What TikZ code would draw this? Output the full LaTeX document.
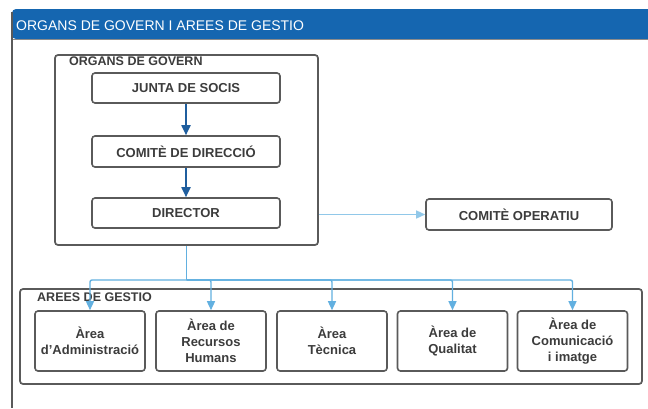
\documentclass[tikz,border=0pt]{standalone}
\usepackage{fontspec}
\setmainfont{Liberation Sans}
\usetikzlibrary{arrows.meta}
\definecolor{hdrblue}{HTML}{1566B0}
\definecolor{boxgray}{HTML}{5A5A5A}
\definecolor{txtgray}{HTML}{3C3C3C}
\definecolor{darkarrow}{HTML}{1F5E9E}
\definecolor{lightarrow}{HTML}{62B0E0}
\tikzset{
  group/.style={draw=boxgray, line width=1.7pt, rounded corners=3pt, inner sep=0pt},
  unit/.style={draw=boxgray, line width=1.6pt, rounded corners=3pt, inner sep=0pt,
    text=txtgray, font=\fontsize{13}{16}\selectfont\bfseries, align=center},
  area/.style={unit, minimum width=110pt, minimum height=60pt},
  grouplabel/.style={anchor=base west, inner sep=0pt, text=txtgray, font=\fontsize{12.5}{15}\selectfont\bfseries},
  darr/.style={draw=darkarrow, line width=1.8pt, -{Triangle[length=10pt,width=9pt]}},
  larr/.style={draw=lightarrow, line width=1.4pt, -{Triangle[length=9pt,width=8pt]}},
  lline/.style={draw=lightarrow, line width=1.4pt}
}
\begin{document}
\begin{tikzpicture}[x=1pt,y=-1pt]
\useasboundingbox (0,0) rectangle (648,408);
\fill[white] (0,0) rectangle (648,408);
% header bar and frame
\fill[hdrblue, rounded corners=4pt] (12,39) -- (12,9) -- (660,9) -- (660,39) -- cycle;
\draw[boxgray!70, line width=1pt] (12,39) -- (648,39);
\draw[boxgray, line width=1.3pt] (12,12) -- (12,408);
\node[anchor=base west, inner sep=0pt, text=white, font=\fontsize{14}{16}\selectfont] (title) at (16,30) {ORGANS DE GOVERN I AREES DE GESTIO};
% organs de govern
\node[group, minimum width=263pt, minimum height=190pt] (og) at (186.5,150) {};
\node[grouplabel] (oglabel) at (69,65) {ORGANS DE GOVERN};
\node[unit, minimum width=188pt, minimum height=30pt] (junta) at (186,88) {JUNTA DE SOCIS};
\node[unit, minimum width=188pt, minimum height=31pt] (cdir) at (186,151.5) {COMITÈ DE DIRECCIÓ};
\node[unit, minimum width=188pt, minimum height=30pt] (dir) at (186,213) {DIRECTOR};
\node[unit, minimum width=186pt, minimum height=31pt] (cop) at (519,214.5) {COMITÈ OPERATIU};
\draw[darr] (junta) -- (cdir);
\draw[darr] (cdir) -- (dir);
\draw[larr, draw=lightarrow!70] (og.east |- cop.west) -- (cop.west);
% arees de gestio
\node[group, minimum width=622pt, minimum height=95pt] (ag) at (331,336.5) {};
\node[grouplabel] (aglabel) at (37,301) {AREES DE GESTIO};
\node[area] (a1) at (90,341) {Àrea\\d{\char39}Administració};
\node[area] (a2) at (211,341) {Àrea de\\Recursos\\Humans};
\node[area] (a3) at (332,341) {Àrea\\Tècnica};
\node[area] (a4) at (452.5,341) {Àrea de\\Qualitat};
\node[area] (a5) at (572.5,341) {Àrea de\\Comunicació\\i imatge};
% distribution connectors
\coordinate (j) at (186.5,280);
\draw[lline] (og.south) -- (j);
\foreach \a in {a1,a2,a3,a4,a5}{
  \draw[larr, rounded corners=2pt] (j) -| (\a.north);
}
\end{tikzpicture}
\end{document}
